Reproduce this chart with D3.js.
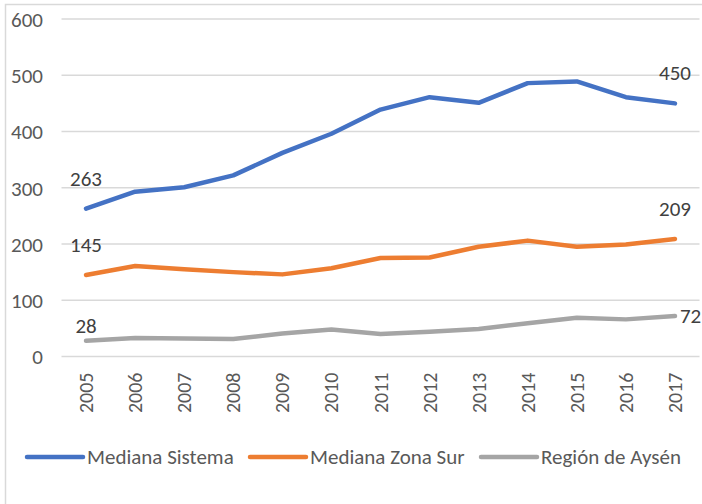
<!DOCTYPE html>
<html>
<head>
<meta charset="utf-8">
<script src="https://cdn.jsdelivr.net/npm/d3@7/dist/d3.min.js"></script>
<style>
  html, body { margin: 0; padding: 0; background: #fff; }
  svg { display: block; }
  text { font-family: Carlito, Calibri, Lato, "Open Sans", sans-serif; }
</style>
</head>
<body>
<svg id="chart" width="702" height="504"></svg>
<script>
const years = ["2005","2006","2007","2008","2009","2010","2011","2012","2013","2014","2015","2016","2017"];
const medianaSistema = [263, 293, 301, 322, 362, 396, 439, 461, 451, 486, 489, 461, 450];
const medianaZonaSur = [145, 161, 155, 150, 146, 157, 175, 176, 195, 206, 195, 199, 209];
const regionAysen    = [28, 33, 32, 31, 41, 48, 40, 44, 49, 59, 69, 66, 72];
const yTicks = [0, 100, 200, 300, 400, 500, 600];
const seriesNames = ["Mediana Sistema", "Mediana Zona Sur", "Región de Aysén"];
const seriesColors = ["#4472C4", "#ED7D31", "#A5A5A5"];

const series = [medianaSistema, medianaZonaSur, regionAysen].map((v, i) => ({
  name: seriesNames[i], color: seriesColors[i], values: v
}));

const svg = d3.select("#chart");

// outer frame
svg.append("rect")
  .attr("x", 5.5).attr("y", 4.5)
  .attr("width", 720).attr("height", 520)
  .attr("fill", "none").attr("stroke", "#d9d9d9").attr("stroke-width", 1.5);

const x = d3.scaleBand().domain(years).range([61.5, 699.5]).padding(0);
const cx = d => x(d) + x.bandwidth() / 2;
const y = d3.scaleLinear().domain([0, 600]).range([356.5, 19]);

// gridlines
svg.append("g").selectAll("line").data(yTicks).join("line")
  .attr("x1", 61.5).attr("x2", 699.5)
  .attr("y1", d => y(d)).attr("y2", d => y(d))
  .attr("stroke", "#d9d9d9").attr("stroke-width", 1.5);

// y axis labels
const yAxis = d3.axisLeft(y).tickValues(yTicks).tickSize(0).tickPadding(0);
const gy = svg.append("g").attr("transform", "translate(43,0)").call(yAxis);
gy.select(".domain").remove();
gy.selectAll("text")
  .attr("fill", "#595959").attr("font-size", "21px")
  .attr("dy", "0.35em")
  .style("font-family", "Carlito, Calibri, Lato, 'Open Sans', sans-serif");

// x axis labels (rotated)
const xAxis = d3.axisBottom(x).tickSize(0).tickPadding(0);
const gx = svg.append("g").attr("transform", "translate(0,356.5)").call(xAxis);
gx.select(".domain").remove();
gx.selectAll("text")
  .attr("fill", "#595959").attr("font-size", "20px")
  .attr("transform", "rotate(-90)")
  .attr("text-anchor", "end")
  .attr("x", -16).attr("y", 0).attr("dy", "0.35em")
  .style("font-family", "Carlito, Calibri, Lato, 'Open Sans', sans-serif");

// lines
const line = d3.line().x((d, i) => cx(years[i])).y(d => y(d));
svg.append("g").selectAll("path").data(series).join("path")
  .attr("d", d => line(d.values))
  .attr("fill", "none").attr("stroke", d => d.color)
  .attr("stroke-width", 4.5)
  .attr("stroke-linejoin", "round").attr("stroke-linecap", "round");

// data labels
const labels = [
  { s: 0, i: 0, pos: "above", off: 23 },
  { s: 0, i: 12, pos: "above", off: 23 },
  { s: 1, i: 0, pos: "above", off: 23 },
  { s: 1, i: 12, pos: "above", off: 23 },
  { s: 2, i: 0, pos: "above", off: 8 },
  { s: 2, i: 12, pos: "right", off: 5 }
];
svg.append("g").selectAll("text").data(labels).join("text")
  .attr("x", d => d.pos === "right" ? cx(years[d.i]) + d.off : cx(years[d.i]))
  .attr("y", d => d.pos === "right" ? y(series[d.s].values[d.i]) : y(series[d.s].values[d.i]) - d.off)
  .attr("dy", d => d.pos === "right" ? "0.35em" : 0)
  .attr("text-anchor", d => d.pos === "right" ? "start" : "middle")
  .attr("fill", "#404040").attr("font-size", "21px")
  .text(d => series[d.s].values[d.i]);

// legend
const legendX = [27, 250, 481];
const lg = svg.append("g").selectAll("g").data(series).join("g")
  .attr("transform", (d, i) => `translate(${legendX[i]},457)`);
lg.append("line").attr("x1", 0).attr("x2", 56).attr("y1", 0).attr("y2", 0)
  .attr("stroke", d => d.color).attr("stroke-width", 4.5).attr("stroke-linecap", "round");
lg.append("text").attr("x", 60).attr("y", 0).attr("dy", "0.35em")
  .attr("fill", "#595959").attr("font-size", "21px")
  .text(d => d.name);
</script>
</body>
</html>
